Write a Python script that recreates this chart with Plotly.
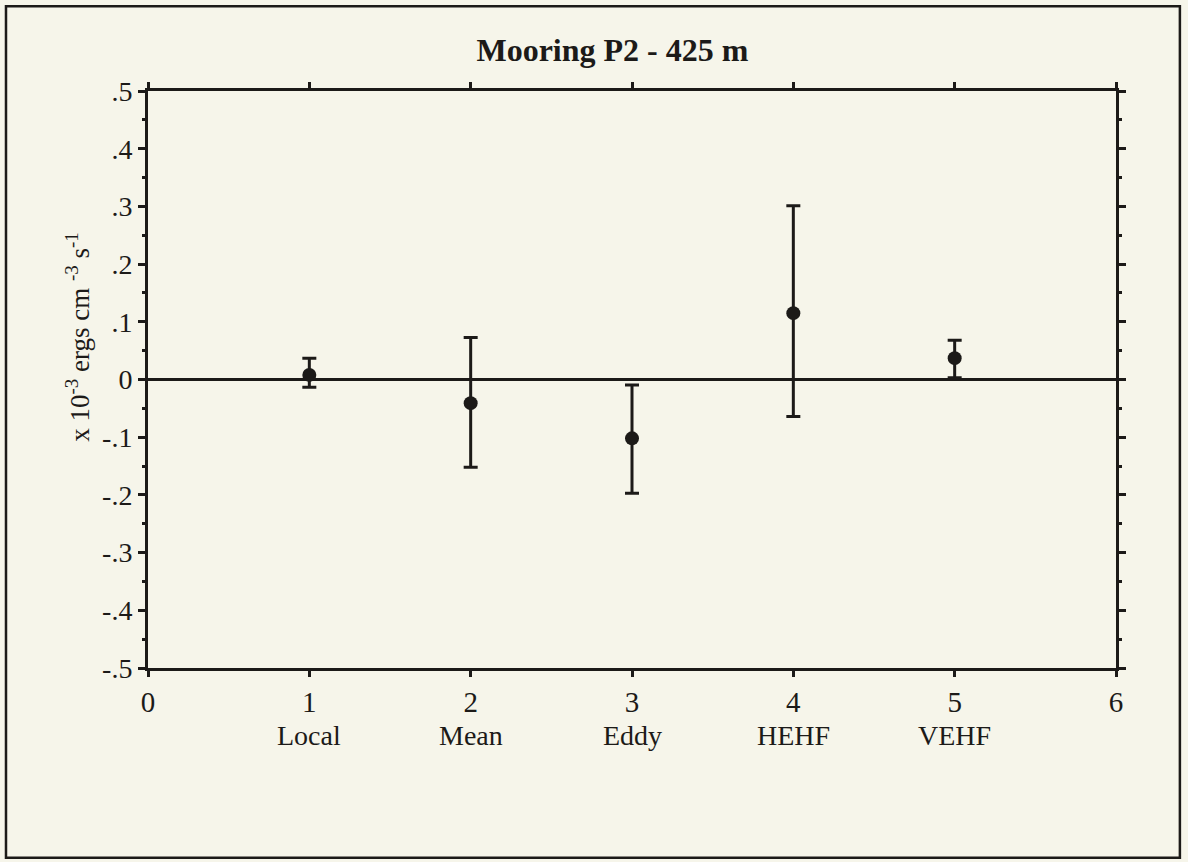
import plotly.graph_objects as go

# Data
categories = ["Local", "Mean", "Eddy", "HEHF", "VEHF"]
x_pos = [1, 2, 3, 4, 5]
y_mid = [0.008, -0.041, -0.102, 0.115, 0.037]
y_upper = [0.037, 0.073, -0.0095, 0.301, 0.068]
y_lower = [-0.0135, -0.152, -0.197, -0.064, 0.003]

y_tickvals = [0.5, 0.4, 0.3, 0.2, 0.1, 0.0, -0.1, -0.2, -0.3, -0.4, -0.5]
y_ticktext = [".5", ".4", ".3", ".2", ".1", "0", "-.1", "-.2", "-.3", "-.4", "-.5"]
x_tickvals = [0, 1, 2, 3, 4, 5, 6]

err_plus = [u - m for u, m in zip(y_upper, y_mid)]
err_minus = [m - l for m, l in zip(y_mid, y_lower)]

BG = "#f6f5ea"
INK = "#1c1a18"
FONT = "Liberation Serif"

fig = go.Figure()
fig.add_trace(go.Scatter(
    x=x_pos, y=y_mid, mode="markers",
    marker=dict(color=INK, size=14, symbol="circle"),
    error_y=dict(type="data", symmetric=False, array=err_plus, arrayminus=err_minus,
                 color=INK, thickness=3, width=7),
    showlegend=False,
))

for xv, name in zip(x_pos, categories):
    fig.add_annotation(x=xv, xref="x", y=0, yref="paper", yanchor="top", yshift=-50,
                       text=name, showarrow=False,
                       font=dict(family=FONT, size=28, color=INK))

fig.add_annotation(x=-0.092, xref="paper", y=0.574, yref="paper",
                   text="x 10<sup>-3</sup> ergs cm <sup>-3</sup> s<sup>-1</sup>",
                   textangle=-90, showarrow=False,
                   font=dict(family=FONT, size=27, color=INK))

# outer frame
fig.add_shape(type="rect", xref="paper", yref="paper",
              x0=-0.1467, x1=1.066, y0=-0.329, y1=1.147,
              line=dict(color=INK, width=2.5), fillcolor="rgba(0,0,0,0)")

fig.update_layout(
    width=1188, height=862,
    margin=dict(l=148, r=72, t=91, b=194),
    paper_bgcolor=BG, plot_bgcolor=BG,
    title=dict(text="<b>Mooring P2 - 425 m</b>", x=0.5155, xanchor="center",
               y=0.942, yanchor="middle",
               font=dict(family="Liberation Serif", size=32, color=INK)),
    font=dict(family=FONT, color=INK),
)
fig.update_xaxes(range=[0, 6], tickvals=x_tickvals, ticks="outside", ticklen=6,
                 tickwidth=2.5, tickcolor=INK, showline=True, linecolor=INK, linewidth=3,
                 mirror="allticks", showgrid=False, zeroline=False,
                 tickfont=dict(family=FONT, size=29, color=INK))
fig.update_yaxes(range=[-0.5, 0.5], tickvals=y_tickvals, ticktext=y_ticktext,
                 ticks="outside", ticklen=7, tickwidth=2.5, tickcolor=INK,
                 showline=True, linecolor=INK, linewidth=3, mirror="allticks",
                 showgrid=False, zeroline=True, zerolinecolor=INK, zerolinewidth=2.5,
                 minor=dict(dtick=0.05, ticks="outside", ticklen=3, tickwidth=3,
                            tickcolor=INK, showgrid=False),
                 tickfont=dict(family=FONT, size=28, color=INK))

fig.write_html("out.html")
